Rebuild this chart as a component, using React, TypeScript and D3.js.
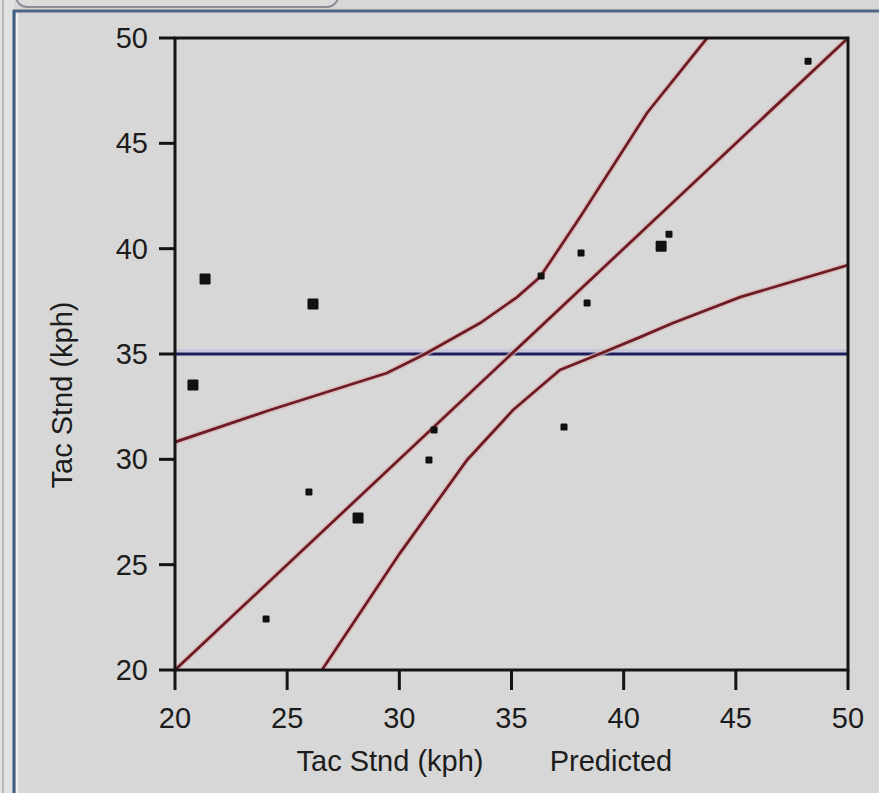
import React from "react";
import * as d3 from "d3";

// ---- data ----
const ticks = [20, 25, 30, 35, 40, 45, 50];
const xLabel = "Tac Stnd (kph)";
const xLabel2 = "Predicted";
const yLabel = "Tac Stnd (kph)";
const meanY = 35;

// points: predicted, actual, big marker?
const predicted = [21.34, 26.15, 20.8, 25.97, 28.16, 24.06, 31.32, 31.55, 36.32, 38.1, 38.37, 37.34, 41.67, 42.02, 48.22];
const actual = [38.56, 37.37, 33.53, 28.45, 27.21, 22.42, 29.97, 31.39, 38.7, 39.79, 37.42, 31.53, 40.12, 40.69, 48.9];
const bigMarker = [1, 1, 1, 0, 1, 0, 0, 0, 0, 0, 0, 0, 1, 0, 0];

const fitX = [20, 50];
const fitY = [20, 50];

const upperX = [20, 24.24, 29.45, 31.06, 33.6, 35.25, 36.27, 38.06, 41.04, 43.72];
const upperY = [30.82, 32.34, 34.1, 34.95, 36.47, 37.7, 38.65, 41.5, 46.44, 50];
const lowerX = [26.55, 30.03, 33.02, 35.07, 37.16, 38.81, 40.73, 42.2, 45.19, 50];
const lowerY = [20, 25.55, 29.97, 32.34, 34.24, 34.95, 35.8, 36.47, 37.7, 39.22];

export default function App() {
  const W = 879, H = 793;
  const x = d3.scaleLinear().domain([20, 50]).range([175, 848]);
  const y = d3.scaleLinear().domain([20, 50]).range([670, 38]);
  const line = d3.line<[number, number]>().x((d) => x(d[0])).y((d) => y(d[1]));
  const fit = line(fitX.map((v, i) => [v, fitY[i]]))!;
  const upper = line(upperX.map((v, i) => [v, upperY[i]]))!;
  const lower = line(lowerX.map((v, i) => [v, lowerY[i]]))!;
  const red = "#6c1c22";
  const font = "'Liberation Sans', Arial, sans-serif";
  const fs = 29;
  const [x0, x1] = x.range();
  const [y0, y1] = y.range();

  return (
    <div style={{ position: "fixed", left: 0, top: 0 }}>
      <svg width={W} height={H} style={{ display: "block" }}>
        <rect x={0} y={0} width={W} height={H} fill="#d7d7d7" />
        <rect x={0} y={0} width={14} height={H} fill="#dfe1e3" />
        <line x1={3} y1={0} x2={3} y2={H} stroke="#a8a8a8" strokeWidth={1.5} />
        {/* tab outline */}
        <rect x={16} y={-30} width={322} height={37} rx={11} fill="#dcdcdc" stroke="#8a8e94" strokeWidth={2} />
        {/* panel border */}
        <line x1={13} y1={11} x2={W} y2={11} stroke="#4f6683" strokeWidth={3} />
        <line x1={14} y1={10} x2={14} y2={H} stroke="#3e5d82" strokeWidth={3} />
        <line x1={17} y1={13} x2={17} y2={H} stroke="#eef0f2" strokeWidth={2} />

        <defs>
          <clipPath id="plotclip">
            <rect x={x0} y={y1} width={x1 - x0} height={y0 - y1} />
          </clipPath>
        </defs>

        <g clipPath="url(#plotclip)">
          {/* mean line */}
          <line x1={x0} x2={x1} y1={y(meanY) - 3} y2={y(meanY) - 3} stroke="#c8c8dc" strokeWidth={4} />
          <line x1={x0} x2={x1} y1={y(meanY)} y2={y(meanY)} stroke="#1f1f5c" strokeWidth={3} />
          {[upper, fit, lower].map((d, i) => (
            <g key={i}>
              <path d={d} fill="none" stroke="#dcb8b8" strokeWidth={6} opacity={0.7} />
              <path d={d} fill="none" stroke={red} strokeWidth={2.8} />
            </g>
          ))}
          {predicted.map((p, i) => {
            const s = bigMarker[i] ? 11 : 7;
            return (
              <rect key={i} x={x(p) - s / 2} y={y(actual[i]) - s / 2} width={s} height={s} rx={1.2} fill="#111" />
            );
          })}
        </g>

        {/* frame */}
        <path d={`M${x0},${y0}V${y1}H${x1}V${y0}H${x0}`} fill="none" stroke="#141414" strokeWidth={3} />

        {/* y ticks */}
        {ticks.map((t) => (
          <g key={"y" + t}>
            <line x1={x0 - 16} x2={x0} y1={y(t)} y2={y(t)} stroke="#141414" strokeWidth={3} />
            <text x={x0 - 27} y={y(t)} dy="0.35em" textAnchor="end" fontFamily={font} fontSize={fs} fill="#1c1c1c">
              {t}
            </text>
          </g>
        ))}
        {/* x ticks */}
        {ticks.map((t) => (
          <g key={"x" + t}>
            <line x1={x(t)} x2={x(t)} y1={y0} y2={y0 + 20} stroke="#141414" strokeWidth={3} />
            <text x={x(t)} y={y0 + 48} dy="0.35em" textAnchor="middle" fontFamily={font} fontSize={fs} fill="#1c1c1c">
              {t}
            </text>
          </g>
        ))}

        <text x={390} y={761} dy="0.35em" textAnchor="middle" fontFamily={font} fontSize={fs} fill="#1c1c1c">
          {xLabel}
        </text>
        <text x={611} y={761} dy="0.35em" textAnchor="middle" fontFamily={font} fontSize={fs} fill="#1c1c1c">
          {xLabel2}
        </text>
        <text
          transform={`translate(62,395) rotate(-90)`}
          dy="0.35em"
          textAnchor="middle"
          fontFamily={font}
          fontSize={fs}
          fill="#1c1c1c"
        >
          {yLabel}
        </text>
      </svg>
    </div>
  );
}
